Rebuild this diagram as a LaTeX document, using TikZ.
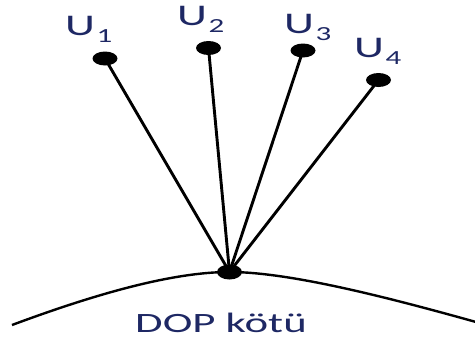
\documentclass[tikz,border=0pt]{standalone}
\usepackage{fontspec}
\setmainfont{Carlito}
\usetikzlibrary{shapes.geometric}
\definecolor{txtblue}{RGB}{30,40,100}
\tikzset{
  dotnode/.style={ellipse,fill=black,draw=none,inner sep=0pt,minimum width=25pt,minimum height=14pt},
  spoke/.style={line width=2.9pt},
  curveline/.style={line width=2.4pt},
  lbl/.style={anchor=base west,inner sep=0pt,text=txtblue,font=\fontsize{30}{30}\selectfont}
}
\newcommand{\ulab}[1]{\scalebox{1.55}[1]{U\hspace{1pt}\raisebox{-7pt}{\fontsize{20}{20}\selectfont #1}}}
\begin{document}
\begin{tikzpicture}[x=1pt,y=-1pt]
\useasboundingbox (0,0) rectangle (475,343);
\node[dotnode] (u1) at (105,58.5) {};
\node[dotnode] (u2) at (208.5,48) {};
\node[dotnode] (u3) at (303,50.5) {};
\node[dotnode] (u4) at (378.5,80) {};
\node[dotnode,minimum height=15pt] (c) at (229.5,272) {};
\coordinate (l) at (12,325);
\coordinate (r) at (476,322);
\draw[curveline] (l) .. controls (90,296) and (170,272) .. (c.center)
  .. controls (290,272) and (390,298) .. (r);
\foreach \u in {u1,u2,u3,u4} \draw[spoke] (c.center) -- (\u.center);
\node[lbl] (l1) at (65,35) {\ulab{1}};
\node[lbl] (l2) at (177,25) {\ulab{2}};
\node[lbl] (l3) at (284,33) {\ulab{3}};
\node[lbl] (l4) at (354,57) {\ulab{4}};
\node[anchor=base,inner sep=0pt,text=txtblue,font=\fontsize{28}{28}\selectfont] (t) at (221,332) {\scalebox{1.6}[1]{DOP kötü}};
\end{tikzpicture}
\end{document}
